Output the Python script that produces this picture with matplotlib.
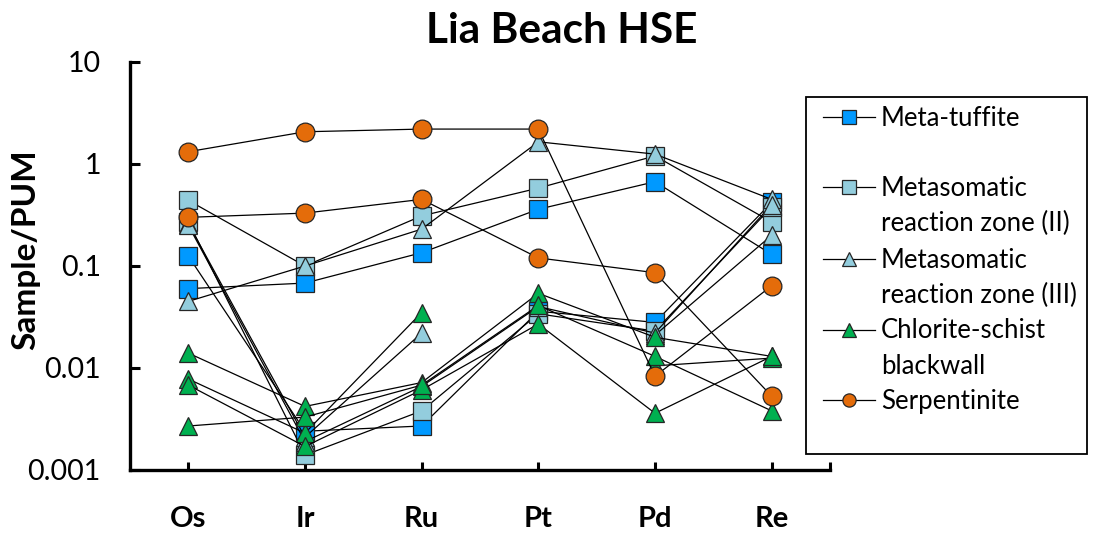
import numpy as np
import matplotlib
matplotlib.use("Agg")
import matplotlib.pyplot as plt
from matplotlib.lines import Line2D
from matplotlib.patches import Rectangle

nan = np.nan
elements = ["Os", "Ir", "Ru", "Pt", "Pd", "Re"]
y_ticks = [0.001, 0.01, 0.1, 1, 10]
y_tick_labels = ["0.001", "0.01", "0.1", "1", "10"]

# Meta-tuffite
meta_tuffite_1 = [0.060, 0.068, 0.135, 0.36, 0.67, 0.13]
meta_tuffite_2 = [0.125, 0.0024, 0.0027, 0.036, 0.028, 0.42]
# Metasomatic reaction zone (II)
mrz2_1 = [0.44, 0.100, 0.31, 0.58, 1.20, 0.27]
mrz2_2 = [0.27, 0.0014, 0.0038, 0.034, 0.023, 0.38]
# Metasomatic reaction zone (III)
mrz3_1 = [0.045, 0.100, 0.23, 1.65, 1.25, 0.45]
mrz3_2 = [0.26, 0.0021, 0.022, nan, 0.021, 0.20]
mrz3_3 = [0.25, 0.0019, 0.0066, 0.040, 0.022, 0.40]
# Chlorite-schist blackwall
chl_1 = [0.014, 0.0042, 0.0072, 0.054, 0.020, 0.013]
chl_2 = [0.0078, 0.0023, 0.035, nan, 0.0105, 0.0125]
chl_3 = [0.0068, 0.0017, 0.0061, 0.027, 0.0036, 0.013]
chl_4 = [0.0027, 0.0033, 0.0068, 0.041, 0.013, 0.0038]
# Serpentinite
serp_1 = [1.32, 2.07, 2.2, 2.2, 0.0083, 0.064]
serp_2 = [0.30, 0.33, 0.45, 0.12, 0.086, 0.0053]

group_names = [["Meta-tuffite"],
               ["Metasomatic", "reaction zone (II)"],
               ["Metasomatic", "reaction zone (III)"],
               ["Chlorite-schist", "blackwall"],
               ["Serpentinite"]]
group_series = [[meta_tuffite_1, meta_tuffite_2],
                [mrz2_1, mrz2_2],
                [mrz3_1, mrz3_2, mrz3_3],
                [chl_1, chl_2, chl_3, chl_4],
                [serp_1, serp_2]]
group_colors = ["#0099FF", "#93CDDD", "#93CDDD", "#00B050", "#E46C0A"]
group_markers = ["s", "s", "^", "^", "o"]

FONT = ["Lato", "DejaVu Sans"]
plt.rcParams["font.family"] = FONT

W, H = 1094, 539
fig = plt.figure(figsize=(W / 100, H / 100), dpi=100)

def fx(px):
    return px / W

def fy(py):
    return 1 - py / H

ax = fig.add_axes([fx(130), fy(470), fx(830) - fx(130), fy(62) - fy(470)])
x = np.arange(1, len(elements) + 1)

z = 2
for series_list, col, mk in zip(group_series, group_colors, group_markers):
    for vals in series_list:
        ax.plot(x, vals, color="black", lw=0.9, marker=mk, ms=13.5,
                mfc=col, mec="#262626", mew=0.9, zorder=z)
        z += 0.1

ax.set_yscale("log")
ax.set_ylim(0.001, 10)
ax.set_xlim(0.5, 6.5)
ax.set_yticks(y_ticks)
ax.set_yticklabels(y_tick_labels)
ax.yaxis.set_minor_locator(matplotlib.ticker.NullLocator())
ax.set_xticks(list(x) + [6.5])
ax.set_xticklabels(elements + [""], fontweight="bold", fontsize=21)
ax.tick_params(axis="y", direction="in", length=7, width=2.2, labelsize=20.5, pad=21)
ax.tick_params(axis="x", direction="in", length=6, width=2.2, pad=26)
for s in ["top", "right"]:
    ax.spines[s].set_visible(False)
for s in ["left", "bottom"]:
    ax.spines[s].set_linewidth(2.4)

ax.set_ylabel("Sample/PUM", fontsize=24, fontweight="bold")
ax.yaxis.set_label_coords((40 - 130) / 700, (470 - 250) / 408)
fig.text(fx(562), fy(31), "Lia Beach HSE", fontsize=30.5, fontweight="bold",
         ha="center", va="center")

# legend box drawn by hand
fig.add_artist(Rectangle((fx(806), fy(454)), fx(1087) - fx(806), fy(97) - fy(454),
                         transform=fig.transFigure, fill=False, ec="black", lw=1.3))
row_y = [117, 187, 259, 330, 400]
line_step = 35.7
for lines, col, mk, ry in zip(group_names, group_colors, group_markers, row_y):
    fig.add_artist(Line2D([fx(823), fx(875)], [fy(ry), fy(ry)], color="black", lw=0.9,
                          transform=fig.transFigure))
    fig.add_artist(Line2D([fx(849)], [fy(ry)], marker=mk, ms=9.5, mfc=col,
                          mec="#262626", mew=0.9, transform=fig.transFigure))
    for i, ln in enumerate(lines):
        fig.text(fx(881), fy(ry + i * line_step + 1), ln, fontsize=18.5,
                 ha="left", va="center", transform=fig.transFigure)

fig.savefig("out.png", dpi=100)
